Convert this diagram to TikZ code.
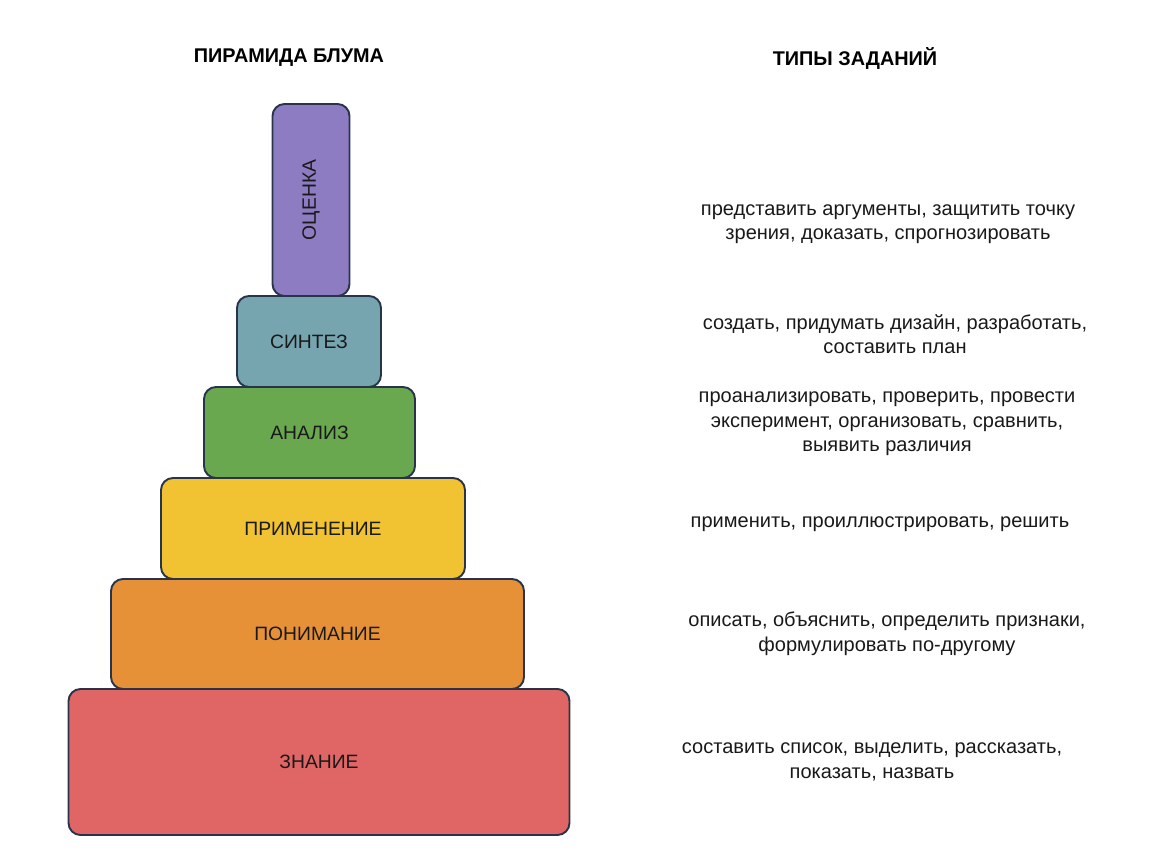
\documentclass[tikz,border=0pt]{standalone}
\usepackage{fontspec}
\setmainfont{Liberation Sans}
\usepackage{xcolor}
\usetikzlibrary{positioning}

\definecolor{lvlpurple}{HTML}{8E7CC3}
\definecolor{lvlteal}{HTML}{76A5AF}
\definecolor{lvlgreen}{HTML}{6AA84F}
\definecolor{lvlyellow}{HTML}{F1C232}
\definecolor{lvlorange}{HTML}{E69138}
\definecolor{lvlred}{HTML}{E06666}
\definecolor{edgedark}{HTML}{28344A}

\begin{document}
\begin{tikzpicture}[
    x=0.02cm, y=-0.02cm,
    level/.style 2 args={rectangle, rounded corners=0.24cm, draw=edgedark, line width=1.1pt,
        minimum width=#1*0.02cm, minimum height=#2*0.02cm, inner sep=0pt,
        font=\fontsize{11}{13}\selectfont, text=black!90},
    heading/.style={font=\fontsize{11.3}{13}\selectfont\bfseries},
    tasks/.style={align=center, font=\fontsize{11.4}{14}\selectfont, text=black!90}
]
    \useasboundingbox (0,0) rectangle (1150,864);

    % Headings
    \node[heading] (bloom) at (289,58) {ПИРАМИДА БЛУМА};
    \node[heading] (types) at (855,58) {ТИПЫ ЗАДАНИЙ};

    % Pyramid levels - bottom to top
    \node[level={501}{146}, fill=lvlred] (znanie) at (319,762) {ЗНАНИЕ};
    \node[level={413}{110}, fill=lvlorange] (ponim) at (317.5,634) {ПОНИМАНИЕ};
    \node[level={304}{101}, fill=lvlyellow] (prim) at (313,528.5) {ПРИМЕНЕНИЕ};
    \node[level={211}{91}, fill=lvlgreen] (analiz) at (309.5,432.5) {АНАЛИЗ};
    \node[level={144}{91}, fill=lvlteal] (sintez) at (309,341.5) {СИНТЕЗ};
    \node[level={77}{192}, fill=lvlpurple] (ocenka) at (311,200) {};
    \node[rotate=90, font=\fontsize{11}{13}\selectfont, text=black!90] (ocenkatxt) at (ocenka.center) {ОЦЕНКА};

    % Task types
    \node[tasks] (t_ocenka) at (888,224) {представить аргументы, защитить точку\\зрения, доказать, спрогнозировать};
    \node[tasks] (t_sintez) at (895,334) {создать, придумать дизайн, разработать,\\составить план};
    \node[tasks] (t_analiz) at (887,424) {проанализировать, проверить, провести\\эксперимент, организовать, сравнить,\\выявить различия};
    \node[tasks] (t_prim) at (880,524) {применить, проиллюстрировать, решить};
    \node[tasks] (t_ponim) at (887,634) {описать, объяснить, определить признаки,\\формулировать по-другому};
    \node[tasks] (t_znanie) at (872,762) {составить список, выделить, рассказать,\\показать, назвать};

\end{tikzpicture}
\end{document}
